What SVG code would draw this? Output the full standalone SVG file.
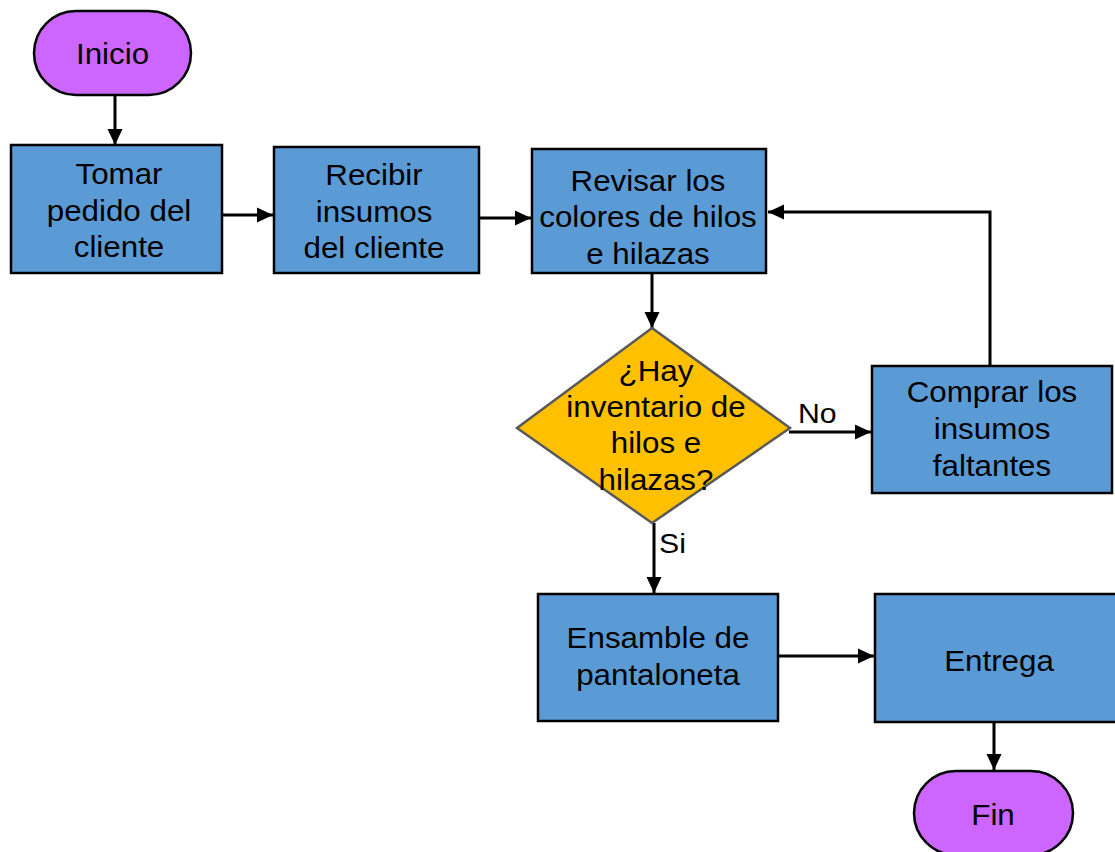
<svg xmlns="http://www.w3.org/2000/svg" width="1115" height="852" viewBox="0 0 1115 852">
  <style>
    .proc { fill: #5B9BD5; stroke: #000; stroke-width: 2.5; }
    .term { fill: #CC66FF; stroke: #000; stroke-width: 2.5; }
    .dec { fill: #FFC000; stroke: #595959; stroke-width: 2.5; }
    .lbl { font-family: "Liberation Sans", Arial, sans-serif; font-size: 29px; fill: #000; text-anchor: middle; }
    .edge { font-family: "Liberation Sans", Arial, sans-serif; font-size: 28px; fill: #000; }
    .conn { fill: none; stroke: #000; stroke-width: 3; marker-end: url(#arrow); }
  </style>
  <defs>
    <marker id="arrow" markerUnits="userSpaceOnUse" markerWidth="18" markerHeight="18" refX="16" refY="9" orient="auto">
      <path d="M0,1.5 L16,9 L0,16.5 Z" fill="#000"/>
    </marker>
  </defs>
  <rect width="1115" height="852" fill="#fff"/>

  <g id="connectors">
    <line class="conn" x1="115" y1="95" x2="115" y2="145"/>
    <line class="conn" x1="222" y1="215" x2="273" y2="215"/>
    <line class="conn" x1="479" y1="218" x2="531" y2="218"/>
    <line class="conn" x1="652" y1="273" x2="652" y2="328"/>
    <line class="conn" x1="789" y1="432" x2="871" y2="432"/>
    <polyline class="conn" points="990,366 990,212 768,212"/>
    <line class="conn" x1="654" y1="523" x2="654" y2="593"/>
    <line class="conn" x1="778" y1="656" x2="874" y2="656"/>
    <line class="conn" x1="994" y1="722" x2="994" y2="770"/>
    <g transform="translate(798,0) scale(1.08,1)"><text class="edge" x="0" y="423">No</text></g>
    <g transform="translate(659,0) scale(1.08,1)"><text class="edge" x="0" y="553">Si</text></g>
  </g>

  <g id="inicio">
    <rect class="term" x="34" y="11" width="157" height="84" rx="42" ry="42"/>
    <g transform="translate(112.5,0) scale(1.08,1)">
      <text class="lbl" x="0" y="64">Inicio</text>
    </g>
  </g>

  <g id="tomar-pedido">
    <rect class="proc" x="11" y="145" width="211" height="128"/>
    <g transform="translate(119,0) scale(1.08,1)">
      <text class="lbl" x="0" y="184">Tomar</text>
      <text class="lbl" x="0" y="221">pedido del</text>
      <text class="lbl" x="0" y="257">cliente</text>
    </g>
  </g>

  <g id="recibir-insumos">
    <rect class="proc" x="274" y="147" width="205" height="126"/>
    <g transform="translate(374,0) scale(1.08,1)">
      <text class="lbl" x="0" y="185">Recibir</text>
      <text class="lbl" x="0" y="222">insumos</text>
      <text class="lbl" x="0" y="258">del cliente</text>
    </g>
  </g>

  <g id="revisar-colores">
    <rect class="proc" x="532" y="149" width="234" height="124"/>
    <g transform="translate(648,0) scale(1.08,1)">
      <text class="lbl" x="0" y="191">Revisar los</text>
      <text class="lbl" x="0" y="227">colores de hilos</text>
      <text class="lbl" x="0" y="264">e hilazas</text>
    </g>
  </g>

  <g id="hay-inventario">
    <polygon class="dec" points="652,328 790,428 652,523 517,428"/>
    <g transform="translate(656,0) scale(1.08,1)">
      <text class="lbl" x="0" y="381">¿Hay</text>
      <text class="lbl" x="0" y="417">inventario de</text>
      <text class="lbl" x="0" y="453">hilos e</text>
      <text class="lbl" x="0" y="490">hilazas?</text>
    </g>
  </g>

  <g id="comprar-insumos">
    <rect class="proc" x="872" y="366" width="240" height="127"/>
    <g transform="translate(992,0) scale(1.08,1)">
      <text class="lbl" x="0" y="402">Comprar los</text>
      <text class="lbl" x="0" y="439">insumos</text>
      <text class="lbl" x="0" y="476">faltantes</text>
    </g>
  </g>

  <g id="ensamble">
    <rect class="proc" x="538" y="594" width="240" height="127"/>
    <g transform="translate(658,0) scale(1.08,1)">
      <text class="lbl" x="0" y="648">Ensamble de</text>
      <text class="lbl" x="0" y="685">pantaloneta</text>
    </g>
  </g>

  <g id="entrega">
    <rect class="proc" x="875" y="594" width="242" height="128"/>
    <g transform="translate(999,0) scale(1.08,1)">
      <text class="lbl" x="0" y="671">Entrega</text>
    </g>
  </g>

  <g id="fin">
    <rect class="term" x="914" y="771" width="159" height="84" rx="42" ry="42"/>
    <g transform="translate(993,0) scale(1.08,1)">
      <text class="lbl" x="0" y="825">Fin</text>
    </g>
  </g>
</svg>
